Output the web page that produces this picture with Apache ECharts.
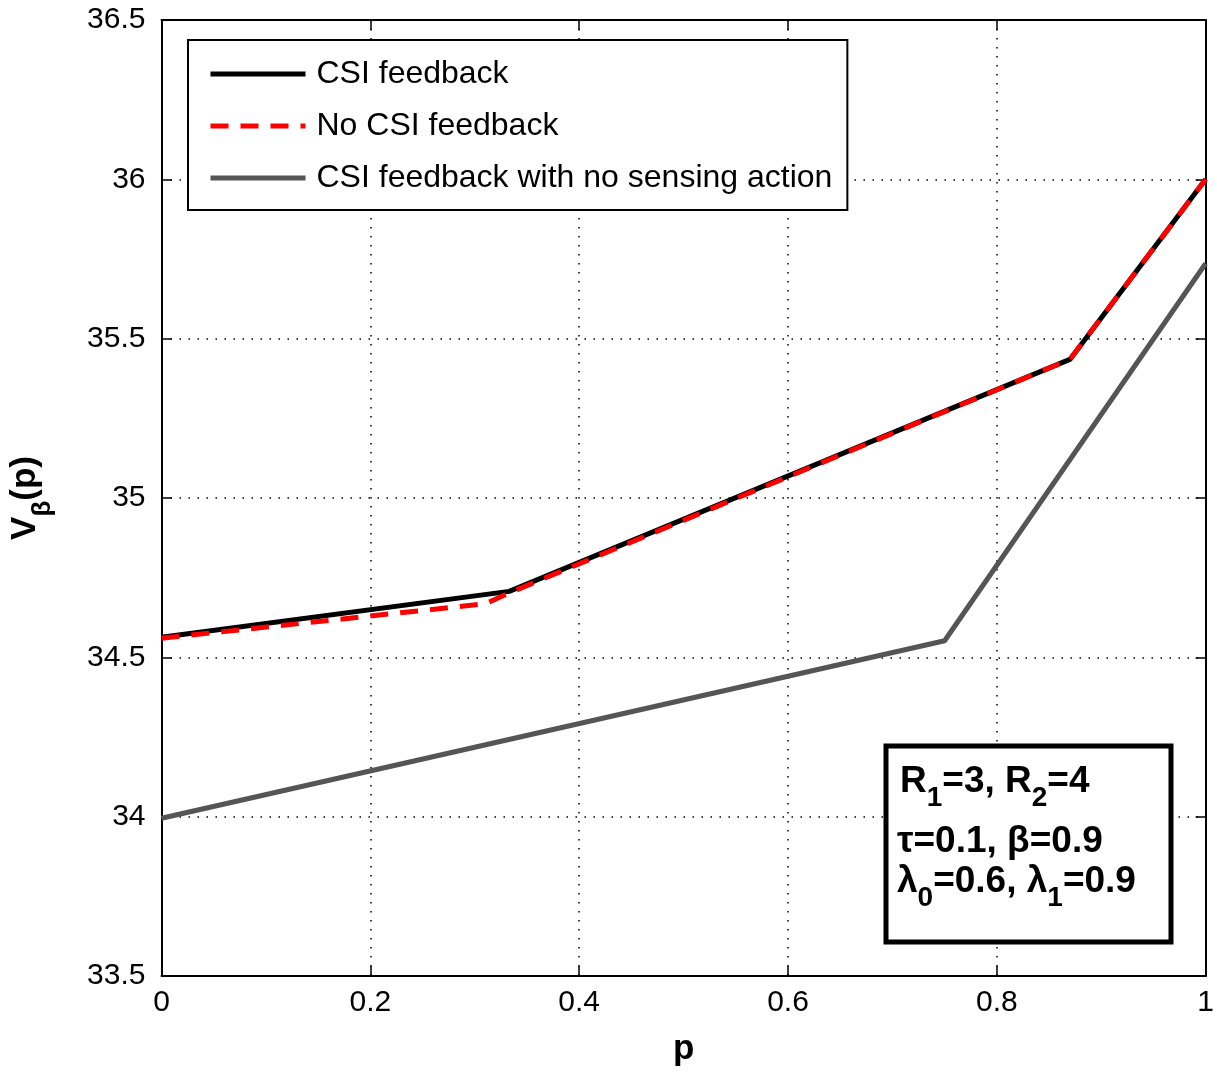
<!DOCTYPE html>
<html>
<head>
<meta charset="utf-8">
<script src="https://cdn.jsdelivr.net/npm/echarts@6/dist/echarts.min.js"></script>
<style>
  html, body { margin: 0; padding: 0; background: #fff; }
  #chart { width: 1217px; height: 1074px; }
</style>
</head>
<body>
<div id="chart"></div>
<script>
'use strict';

// values
const pCsi = [0, 0.333, 0.87, 1];
const vCsi = [34.563, 34.707, 35.435, 36.0];
const pNoCsi = [0, 0.31, 0.333, 0.87, 1];
const vNoCsi = [34.56, 34.668, 34.702, 35.435, 36.0];
const pNoSense = [0, 0.75, 1];
const vNoSense = [33.995, 34.552, 35.736];
const seriesNames = ['CSI feedback', 'No CSI feedback', 'CSI feedback with no sensing action'];

function pairs(xs, ys) {
  return xs.map(function (x, i) { return [x, ys[i]]; });
}

const FONT = '"Liberation Sans", Arial, sans-serif';

var chart = echarts.init(document.getElementById('chart'));

const tickStyle = { show: true, inside: true, length: 10, lineStyle: { color: '#000', width: 1.5 } };
const lineAxis = { show: true, onZero: false, lineStyle: { color: '#000', width: 2 } };
const gridDots = { show: true, lineStyle: { color: '#000', width: 1.5, type: [1.5, 7.5] } };

const subRich = {
  a: { fontFamily: FONT, fontSize: 37, fontWeight: 'bold', fill: '#000' },
  s: { fontFamily: FONT, fontSize: 28, fontWeight: 'bold', fill: '#000', padding: [34, 0, 0, 0] }
};

const option = {
  animation: false,
  backgroundColor: '#fff',
  grid: { left: 160, right: 8, top: 20, bottom: 98, containLabel: false },
  legend: {
    data: seriesNames,
    orient: 'vertical',
    left: 188,
    top: 40,
    padding: [18, 15, 16, 20],
    itemWidth: 95,
    itemHeight: 14,
    itemGap: 20,
    borderColor: '#000',
    borderWidth: 2,
    borderRadius: 0,
    backgroundColor: '#fff',
    itemStyle: { opacity: 0 },
    lineStyle: { width: 5 },
    textStyle: { fontFamily: FONT, fontSize: 32, color: '#000', padding: [0, 0, 0, 6] }
  },
  xAxis: [
    {
      type: 'value', min: 0, max: 1, interval: 0.2,
      name: 'p', nameLocation: 'middle', nameGap: 56,
      nameTextStyle: { fontFamily: FONT, fontSize: 35, fontWeight: 'bold', color: '#000' },
      axisLine: lineAxis, axisTick: tickStyle, splitLine: gridDots,
      axisLabel: { fontFamily: FONT, fontSize: 30, color: '#000', margin: 12 }
    },
    {
      type: 'value', min: 0, max: 1, interval: 0.2, position: 'top',
      axisLine: lineAxis, axisTick: tickStyle, splitLine: { show: false }, axisLabel: { show: false }
    }
  ],
  yAxis: [
    {
      type: 'value', min: 33.5, max: 36.5, interval: 0.5,
      name: '{v|V}{s|β}{v|(p)}', nameLocation: 'middle', nameGap: 106, nameRotate: 90,
      nameTextStyle: {
        fontFamily: FONT, fontSize: 35, fontWeight: 'bold', color: '#000',
        rich: {
          v: { fontFamily: FONT, fontSize: 35, fontWeight: 'bold', color: '#000' },
          s: { fontFamily: FONT, fontSize: 26, color: '#000', padding: [34, 0, 0, 0] }
        }
      },
      axisLine: lineAxis, axisTick: tickStyle, splitLine: gridDots,
      axisLabel: { fontFamily: FONT, fontSize: 30, color: '#000', margin: 16 }
    },
    {
      type: 'value', min: 33.5, max: 36.5, interval: 0.5, position: 'right',
      axisLine: lineAxis, axisTick: tickStyle, splitLine: { show: false }, axisLabel: { show: false }
    }
  ],
  series: [
    {
      name: seriesNames[2], type: 'line', data: pairs(pNoSense, vNoSense), symbol: 'none', z: 2,
      lineStyle: { color: '#555555', width: 5 }, itemStyle: { color: '#555555' }
    },
    {
      name: seriesNames[0], type: 'line', data: pairs(pCsi, vCsi), symbol: 'none', z: 3,
      lineStyle: { color: '#000', width: 5 }, itemStyle: { color: '#000' }
    },
    {
      name: seriesNames[1], type: 'line', data: pairs(pNoCsi, vNoCsi), symbol: 'none', z: 4,
      lineStyle: { color: '#ff0000', width: 5, type: [18, 12] }, itemStyle: { color: '#ff0000' }
    }
  ],
  graphic: [
    {
      type: 'rect', z: 100,
      shape: { x: 886, y: 746, width: 285, height: 196 },
      style: { fill: '#fff', stroke: '#000', lineWidth: 5 }
    },
    {
      type: 'text', z: 101, left: 900, top: 763,
      style: { text: '{a|R}{s|1}{a|=3, R}{s|2}{a|=4}', rich: subRich }
    },
    {
      type: 'text', z: 101, left: 897, top: 823,
      style: { text: 'τ=0.1, β=0.9', font: 'bold 37px ' + FONT, fill: '#000' }
    },
    {
      type: 'text', z: 101, left: 897, top: 863,
      style: { text: '{a|λ}{s|0}{a|=0.6, λ}{s|1}{a|=0.9}', rich: subRich }
    }
  ]
};

chart.setOption(option);
</script>
</body>
</html>
